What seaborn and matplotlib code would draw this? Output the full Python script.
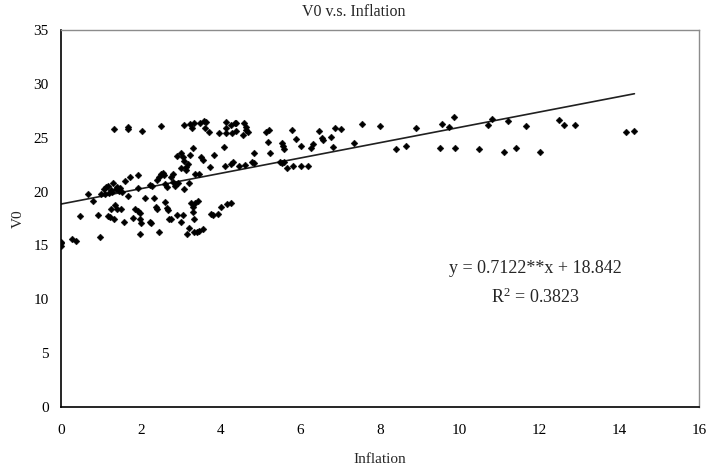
import matplotlib
matplotlib.use("Agg")
import matplotlib.pyplot as plt
import seaborn as sns
import numpy as np
import pandas as pd

# ---- data ----
inflation = [
    0.00, 0.00, 0.00, 0.27, 0.37, 0.47, 0.67, 0.79, 0.92, 0.98, 1.01,
    1.07, 1.10, 1.12, 1.17, 1.23, 1.32, 1.19, 1.30, 1.20, 1.25, 1.28,
    1.26, 1.36, 1.40, 1.50, 1.34, 1.37, 1.41, 1.45, 1.49, 1.53,
    1.57, 1.61, 1.67, 1.68, 1.69, 1.73, 1.80, 1.86, 1.92, 1.97, 1.92, 1.92,
    1.99, 2.00, 1.99, 2.04, 2.11, 2.22, 2.25, 2.22, 2.28, 2.34, 2.37, 2.42,
    2.40, 2.45, 2.50, 2.55, 2.58, 2.47, 2.52, 2.61, 2.61, 2.65,
    2.65, 2.69, 2.72, 2.76, 2.77, 2.82, 2.82, 2.86, 2.90,
    2.92, 3.00, 2.94, 3.00, 3.02, 3.07, 3.08, 3.09, 3.07, 3.09,
    3.13, 3.14, 3.19, 3.15, 3.22, 3.22, 3.23, 3.23, 3.28, 3.33,
    3.26, 3.30, 3.37, 3.43, 3.32, 3.32, 3.34, 3.34, 3.40, 3.47, 3.57,
    3.37, 3.45, 3.48, 3.52, 3.57, 3.58, 3.63, 3.62, 3.70,
    3.73, 3.76, 3.82, 3.84, 3.94, 3.96, 4.00, 4.09, 4.12, 4.13, 4.15, 4.15,
    4.17, 4.26, 4.26, 4.32, 4.27, 4.36, 4.40, 4.30, 4.40,
    4.47, 4.57, 4.63, 4.69, 4.60, 4.65, 4.62, 4.83, 4.80, 4.85,
    5.13, 5.22, 5.18, 5.23, 5.50, 5.55, 5.60, 5.54, 5.57, 5.60,
    5.67, 5.80, 5.82, 5.90, 6.01, 6.03, 6.20, 6.26, 6.32, 6.46, 6.54, 6.58,
    6.77, 6.82, 6.88, 7.01, 7.36, 7.55, 8.00, 8.40, 8.65, 8.90, 9.51, 9.55,
    9.74, 9.85, 9.88, 10.49, 10.71, 10.81, 11.10, 11.21, 11.42, 11.67,
    12.01, 12.49, 12.61, 12.90, 14.17, 14.38,
]
v0 = [
    15.35, 14.98, 15.20, 15.57, 15.38, 17.76, 19.78, 19.13, 17.83, 15.81, 19.75,
    20.21, 19.78, 20.40, 17.73, 17.61, 17.43, 20.52, 20.83, 19.90, 20.10, 20.00,
    18.36, 18.76, 18.36, 18.36, 25.78, 20.20, 20.40, 20.05, 20.30, 20.00,
    17.21, 21.01, 26.03, 25.84, 19.62, 21.33, 17.52, 18.42, 18.17, 17.98, 20.33, 21.54,
    17.48, 17.11, 16.03, 25.63, 19.43, 17.21, 17.06, 20.58, 20.52, 19.43, 18.54, 18.36,
    21.08, 21.38, 21.63, 21.75, 21.54, 16.25, 26.09, 20.71, 19.01, 20.40,
    18.48, 18.29, 17.43, 17.48, 21.33, 21.63, 20.87, 20.50, 17.83,
    23.30, 23.60, 20.80, 22.20, 17.20, 23.18, 22.80, 26.16, 17.80, 20.24,
    22.30, 22.00, 22.60, 16.03, 16.65, 20.80, 23.40, 26.28, 25.90, 26.34,
    18.97, 18.54, 18.91, 19.16, 24.02, 18.10, 17.46, 16.28, 16.28, 16.34, 16.53,
    21.63, 21.63, 26.40, 23.24, 22.93, 26.59, 26.46, 25.90, 25.50,
    22.31, 17.89, 17.83, 23.40, 17.89, 25.41, 18.60, 24.17, 22.41, 26.49, 25.88, 25.47,
    18.85, 18.91, 22.56, 22.78, 26.18, 26.34, 26.34, 25.47, 25.66,
    22.41, 25.26, 26.03, 25.56, 26.40, 25.70, 22.47, 23.55, 22.78, 22.63,
    25.56, 25.72, 24.58, 23.55, 22.72, 22.63, 22.72, 24.54, 24.23, 23.93,
    22.16, 25.72, 22.41, 24.86, 24.23, 22.41, 22.41, 24.02, 24.39, 25.63, 25.00, 24.79,
    25.04, 24.17, 25.93, 25.78, 24.54, 26.25, 26.09, 23.96, 24.20, 25.93, 24.08, 26.28,
    26.03, 26.90, 24.08, 23.93, 26.16, 26.74, 23.71, 26.59, 24.08, 26.09,
    23.65, 26.65, 26.16, 26.16, 25.56, 25.63,
]
slope = 0.7122
intercept = 18.842
r_squared = 0.3823
title = "V0 v.s. Inflation"
x_label = "Inflation"
y_label = "V0"
x_ticks = [0, 2, 4, 6, 8, 10, 12, 14, 16]
y_ticks = [0, 5, 10, 15, 20, 25, 30, 35]

df = pd.DataFrame({"Inflation": inflation, "V0": v0})
x_fit = np.array([0.0, max(inflation)])
fit_df = pd.DataFrame({"x": x_fit, "y": slope * x_fit + intercept})

sns.set_style("white")
plt.rcParams["font.family"] = ["Liberation Serif", "DejaVu Serif"]
plt.rcParams["mathtext.default"] = "regular"

fig = plt.figure(figsize=(7.07, 4.70), dpi=100)
ax = fig.add_axes([61 / 707, 1 - 407 / 470, (699 - 61) / 707, (407 - 30) / 470])

sns.scatterplot(data=df, x="Inflation", y="V0", marker="D", s=12,
                color="black", edgecolor="black", linewidth=0.3, ax=ax, zorder=3)
sns.lineplot(data=fit_df, x="x", y="y", color="#202020", linewidth=1.2, ax=ax, zorder=2)

ax.set_xlim(0, 16)
ax.set_ylim(0, 35)
ax.set_xticks(x_ticks)
ax.set_yticks(y_ticks)
ax.tick_params(axis="both", direction="in", length=4, width=1, colors="black",
               labelsize=11)
ax.tick_params(axis="x", pad=12)
ax.tick_params(axis="y", pad=9)

for side in ["left", "bottom"]:
    ax.spines[side].set_color("black")
    ax.spines[side].set_linewidth(1.2)
for side in ["top", "right"]:
    ax.spines[side].set_visible(True)
    ax.spines[side].set_color("#8c8c8c")
    ax.spines[side].set_linewidth(1.0)

ax.set_xlabel(x_label, fontsize=11, labelpad=12)
ax.set_ylabel(y_label, fontsize=11, labelpad=6)
fig.text(0.5, 1 - 12 / 470, title, ha="center", va="center", fontsize=11.5)

ax.text(11.9, 12.9, f"y = {slope}**x + {intercept}", ha="center", va="center",
        fontsize=13)
ax.text(11.9, 10.15, f"R$^{{2}}$ = {r_squared}", ha="center", va="center",
        fontsize=13)

fig.savefig("out.png", dpi=100)
